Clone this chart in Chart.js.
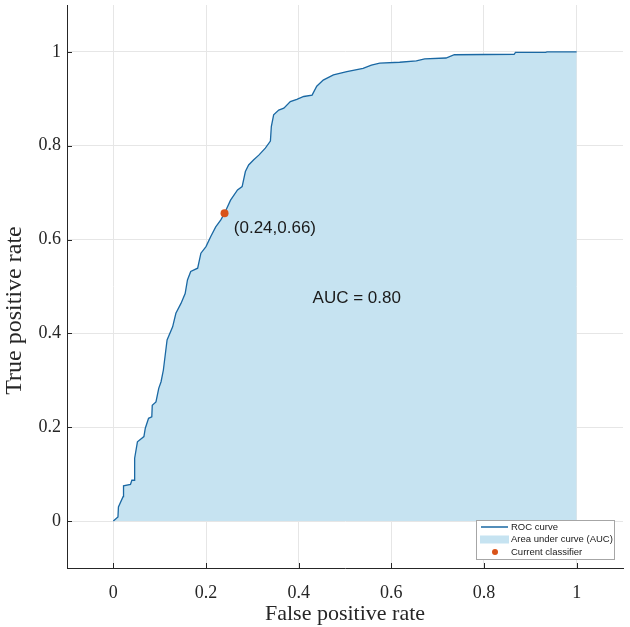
<!DOCTYPE html>
<html>
<head>
<meta charset="utf-8">
<script src="https://cdn.jsdelivr.net/npm/chart.js@4.4.1/dist/chart.umd.min.js"></script>
<style>
  html, body { margin: 0; padding: 0; background: #fff; }
  #roc { display: block; }
</style>
</head>
<body>
<canvas id="roc" width="630" height="627"></canvas>
<script>
// Curva ROC
const fpr = [0.000, 0.010, 0.011, 0.021, 0.022, 0.037, 0.040, 0.046, 0.046, 0.052,
             0.066, 0.069, 0.076, 0.083, 0.084, 0.092, 0.098, 0.103, 0.108, 0.116,
             0.128, 0.135, 0.146, 0.155, 0.160, 0.167, 0.182, 0.189, 0.200, 0.210,
             0.221, 0.232, 0.240, 0.253, 0.268, 0.278, 0.285, 0.292, 0.303, 0.314,
             0.328, 0.339, 0.341, 0.346, 0.357, 0.368, 0.382, 0.396, 0.411, 0.429,
             0.439, 0.453, 0.475, 0.504, 0.539, 0.557, 0.575, 0.618, 0.654, 0.672,
             0.718, 0.736, 0.865, 0.868, 0.933, 0.936, 1.000];
const tpr = [0.000, 0.009, 0.030, 0.052, 0.075, 0.078, 0.087, 0.087, 0.134, 0.169,
             0.180, 0.198, 0.219, 0.222, 0.247, 0.254, 0.283, 0.297, 0.322, 0.386,
             0.414, 0.443, 0.464, 0.485, 0.514, 0.532, 0.539, 0.571, 0.585, 0.606,
             0.627, 0.642, 0.656, 0.684, 0.706, 0.713, 0.745, 0.759, 0.770, 0.780,
             0.795, 0.810, 0.841, 0.866, 0.876, 0.880, 0.894, 0.899, 0.905, 0.908,
             0.927, 0.940, 0.951, 0.958, 0.965, 0.972, 0.976, 0.978, 0.981, 0.985,
             0.987, 0.994, 0.995, 0.999, 0.999, 1.000, 1.000];

// Clasificador actual y textos
const puntoClasificador = [0.24, 0.656];
const textoPunto = '(0.24,0.66)';
const posTextoPunto = [0.26, 0.625];
const textoAUC = 'AUC = 0.80';
const posTextoAUC = [0.43, 0.475];

const ticksX = [0, 0.2, 0.4, 0.6, 0.8, 1];
const ticksY = [0, 0.2, 0.4, 0.6, 0.8, 1];
const tituloX = 'False positive rate';
const tituloY = 'True positive rate';
const etiquetasLeyenda = ['ROC curve', 'Area under curve (AUC)', 'Current classifier'];

const colorLinea = '#1a68a3';
const colorArea = '#c6e3f1';
const colorPunto = '#d95319';
const colorEjes = '#262626';
const fuenteSerif = '"Liberation Serif", "Times New Roman", serif';
const fuenteSans = '"Liberation Sans", Arial, sans-serif';

// Marcas de los ejes hacia dentro (estilo MATLAB)
const ticksInternos = {
    id: 'ticksInternos',
    afterDatasetsDraw(chart) {
        const { ctx, chartArea, scales } = chart;
        ctx.save();
        ctx.strokeStyle = colorEjes;
        ctx.lineWidth = 1;
        ctx.beginPath();
        ticksX.forEach(v => {
            const px = Math.round(scales.x.getPixelForValue(v)) + 0.5;
            ctx.moveTo(px, chartArea.bottom);
            ctx.lineTo(px, chartArea.bottom - 5);
        });
        ticksY.forEach(v => {
            const py = Math.round(scales.y.getPixelForValue(v)) + 0.5;
            ctx.moveTo(chartArea.left, py);
            ctx.lineTo(chartArea.left + 5, py);
        });
        ctx.stroke();
        ctx.restore();
    }
};

// Textos dentro del gráfico y título vertical
const anotaciones = {
    id: 'anotaciones',
    afterDatasetsDraw(chart) {
        const { ctx, scales, chartArea } = chart;
        ctx.save();
        ctx.fillStyle = '#1a1a1a';
        ctx.font = '17px ' + fuenteSans;
        ctx.textAlign = 'left';
        ctx.textBaseline = 'middle';
        ctx.fillText(textoPunto, scales.x.getPixelForValue(posTextoPunto[0]), scales.y.getPixelForValue(posTextoPunto[1]));
        ctx.fillText(textoAUC, scales.x.getPixelForValue(posTextoAUC[0]), scales.y.getPixelForValue(posTextoAUC[1]));

        // título del eje y (algo más bajo que el centro, como en el original)
        ctx.fillStyle = colorEjes;
        ctx.font = '24px ' + fuenteSerif;
        ctx.textAlign = 'center';
        ctx.translate(15, (chartArea.top + chartArea.bottom) / 2 + 24);
        ctx.rotate(-Math.PI / 2);
        ctx.fillText(tituloY, 0, 0);
        ctx.restore();
    }
};

// Leyenda en la esquina inferior derecha
const leyendaCaja = {
    id: 'leyendaCaja',
    afterDraw(chart) {
        const { ctx, chartArea } = chart;
        const w = 138, h = 39;
        const x0 = chartArea.right - 9 - w;
        const y0 = chartArea.bottom - 9 - h;
        ctx.save();
        ctx.fillStyle = '#ffffff';
        ctx.fillRect(x0, y0, w, h);
        ctx.strokeStyle = '#a6a6a6';
        ctx.lineWidth = 1;
        ctx.strokeRect(Math.round(x0) + 0.5, Math.round(y0) + 0.5, w, h);

        const filas = [y0 + 7, y0 + 19.5, y0 + 32];
        // línea
        ctx.strokeStyle = colorLinea;
        ctx.lineWidth = 1.5;
        ctx.beginPath();
        ctx.moveTo(x0 + 5, filas[0]);
        ctx.lineTo(x0 + 32, filas[0]);
        ctx.stroke();
        // área
        ctx.fillStyle = colorArea;
        ctx.fillRect(x0 + 4, filas[1] - 4, 29, 8);
        // punto
        ctx.fillStyle = colorPunto;
        ctx.beginPath();
        ctx.arc(x0 + 19, filas[2], 3, 0, Math.PI * 2);
        ctx.fill();

        ctx.fillStyle = '#1a1a1a';
        ctx.font = '9.5px ' + fuenteSans;
        ctx.textAlign = 'left';
        ctx.textBaseline = 'middle';
        etiquetasLeyenda.forEach((t, i) => ctx.fillText(t, x0 + 35, filas[i]));
        ctx.restore();
    }
};

const ctxRoc = document.getElementById('roc').getContext('2d');
const rocChart = new Chart(ctxRoc, {
    type: 'scatter',
    data: {
        datasets: [{
            label: etiquetasLeyenda[2],
            data: [{ x: puntoClasificador[0], y: puntoClasificador[1] }],
            backgroundColor: colorPunto,
            borderWidth: 0,
            pointRadius: 4,
            order: 0
        }, {
            label: etiquetasLeyenda[0],
            data: fpr.map((x, i) => ({ x: x, y: tpr[i] })),
            showLine: true,
            borderColor: colorLinea,
            borderWidth: 1.3,
            backgroundColor: colorArea,
            fill: 'origin',
            pointRadius: 0,
            tension: 0,
            order: 1
        }]
    },
    options: {
        responsive: false,
        animation: false,
        layout: { padding: { top: 5, right: 7, left: 0, bottom: 0 } },
        plugins: {
            legend: { display: false },
            tooltip: { enabled: false }
        },
        scales: {
            x: {
                type: 'linear',
                min: -0.1,
                max: 1.1,
                afterBuildTicks: s => { s.ticks = ticksX.map(v => ({ value: v })); },
                afterFit: s => { s.height = 59; s.paddingLeft = 0; s.paddingRight = 0; },
                ticks: {
                    font: { family: fuenteSerif, size: 18 },
                    color: colorEjes,
                    padding: 14,
                    maxRotation: 0,
                    callback: v => String(v)
                },
                grid: { color: '#e6e6e6', drawTicks: false },
                border: { color: colorEjes, width: 1 },
                title: {
                    display: true,
                    text: tituloX,
                    font: { family: fuenteSerif, size: 22 },
                    color: colorEjes,
                    padding: { top: 0, bottom: 0 }
                }
            },
            y: {
                type: 'linear',
                min: -0.1,
                max: 1.1,
                afterBuildTicks: s => { s.ticks = ticksY.map(v => ({ value: v })); },
                afterFit: s => { s.width = 67; s.paddingTop = 0; s.paddingBottom = 0; },
                ticks: {
                    font: { family: fuenteSerif, size: 18 },
                    color: colorEjes,
                    padding: 6,
                    callback: v => String(v)
                },
                grid: { color: '#e6e6e6', drawTicks: false },
                border: { color: colorEjes, width: 1 },
                title: { display: false }
            }
        }
    },
    plugins: [ticksInternos, anotaciones, leyendaCaja]
});
</script>
</body>
</html>
